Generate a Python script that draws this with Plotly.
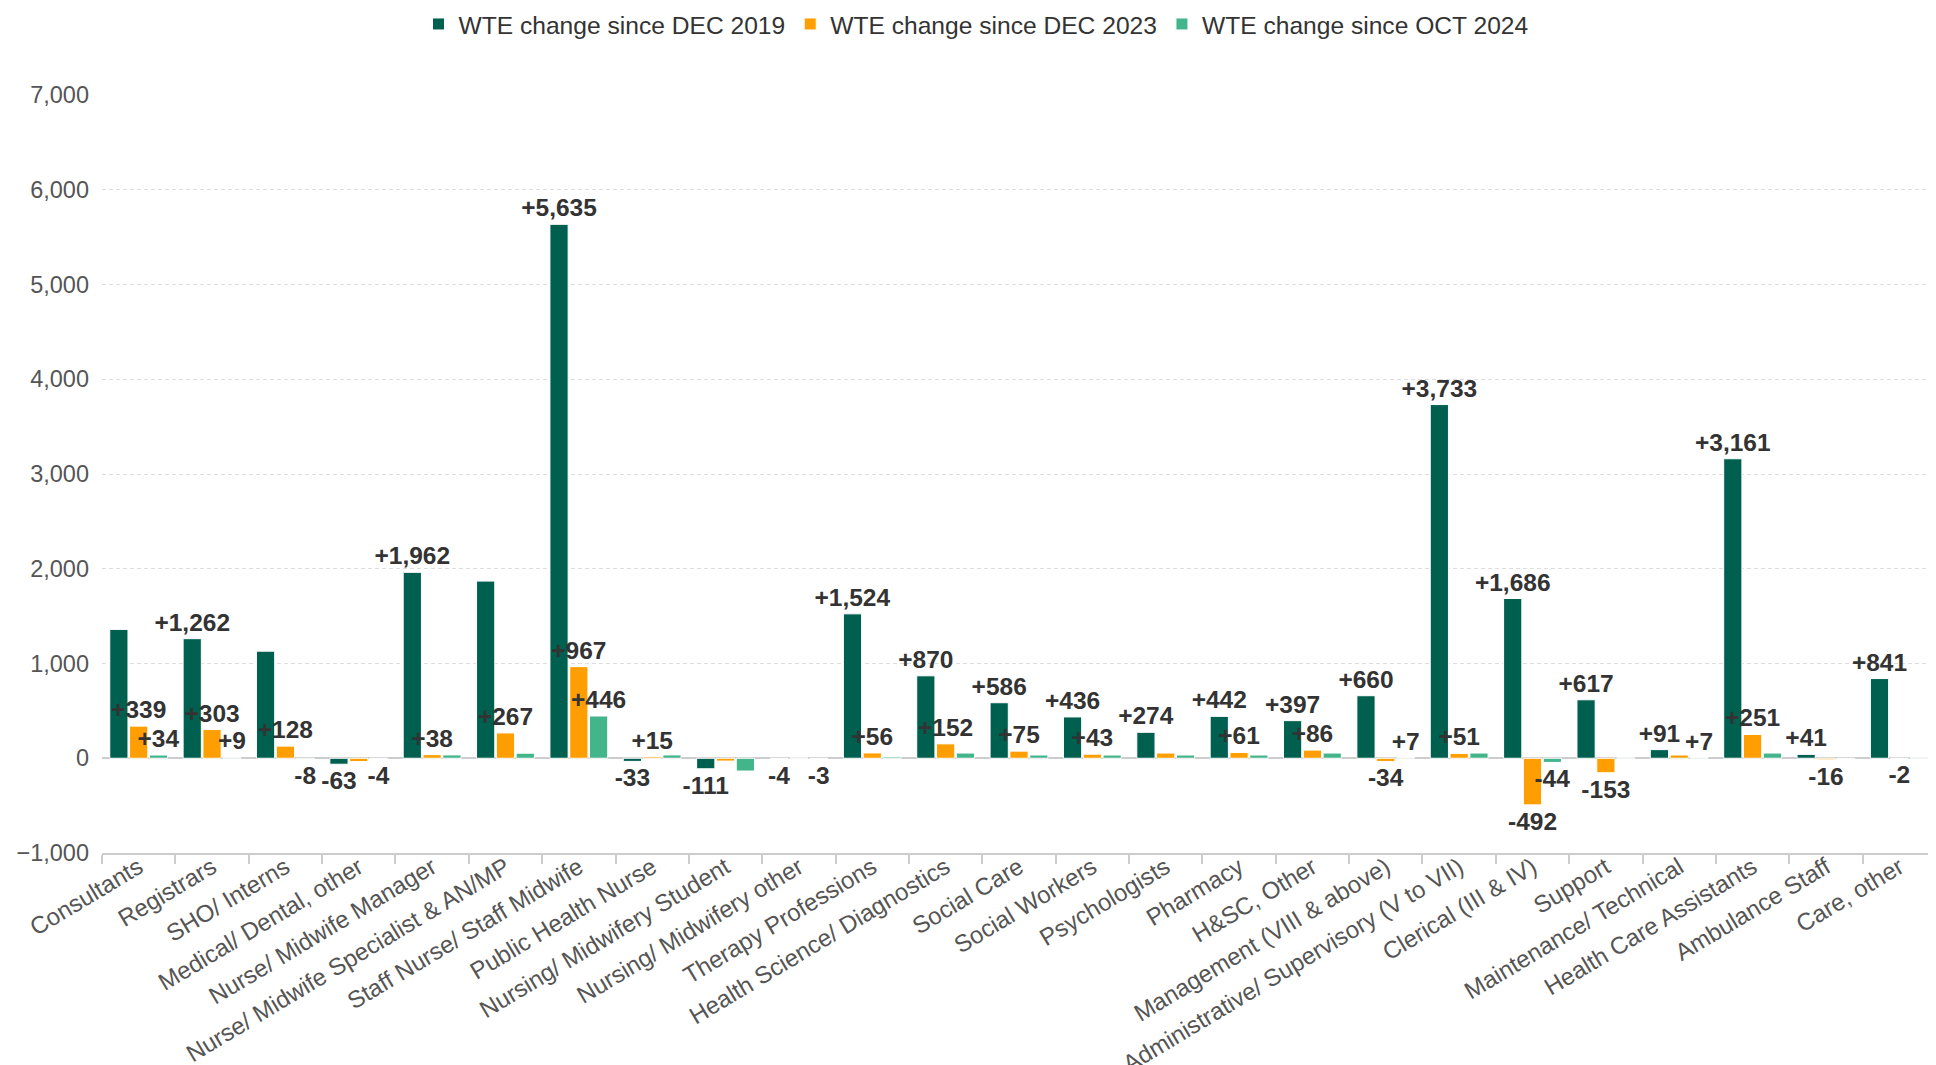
import plotly.graph_objects as go

categories = [
    "Consultants", "Registrars", "SHO/ Interns", "Medical/ Dental, other",
    "Nurse/ Midwife Manager", "Nurse/ Midwife Specialist & AN/MP",
    "Staff Nurse/ Staff Midwife", "Public Health Nurse",
    "Nursing/ Midwifery Student", "Nursing/ Midwifery other",
    "Therapy Professions", "Health Science/ Diagnostics", "Social Care",
    "Social Workers", "Psychologists", "Pharmacy", "H&SC, Other",
    "Management (VIII & above)", "Administrative/ Supervisory (V to VII)",
    "Clerical (III & IV)", "Support", "Maintenance/ Technical",
    "Health Care Assistants", "Ambulance Staff", "Care, other",
]

series_names = ["WTE change since DEC 2019", "WTE change since DEC 2023", "WTE change since OCT 2024"]

change_dec2019 = [1360, 1262, 1130, -63, 1962, 1870, 5635, -33, -111, -4,
                  1524, 870, 586, 436, 274, 442, 397, 660, 3733, 1686,
                  617, 91, 3161, 41, 841]
change_dec2023 = [339, 303, 128, -35, 38, 267, 967, 15, -30, 3,
                  56, 152, 75, 43, 55, 61, 86, -34, 51, -492,
                  -153, 34, 251, -16, -2]
change_oct2024 = [34, 9, -8, -4, 35, 53, 446, 35, -135, -3,
                  14, 55, 34, 34, 34, 34, 55, 7, 55, -44,
                  5, 7, 55, -5, 5]

# which data labels are visible (the others are hidden by label-overlap in the original)
labels_dec2019 = [False, True, False, True, True, False, True, True, True, True,
                  True, True, True, True, True, True, True, True, True, True,
                  True, True, True, True, True]
labels_dec2023 = [True, True, True, False, True, True, True, True, False, False,
                  True, True, True, True, False, True, True, True, True, True,
                  True, False, True, True, True]
labels_oct2024 = [True, True, True, True, False, False, True, False, False, True,
                  False, False, False, False, False, False, False, True, False, True,
                  False, True, False, False, False]

colors = ["#00604F", "#FF9E00", "#43B58B"]

fig = go.Figure()
for name, vals, shows, col in zip(series_names,
                                  [change_dec2019, change_dec2023, change_oct2024],
                                  [labels_dec2019, labels_dec2023, labels_oct2024],
                                  colors):
    texts = [f"{v:+,}" if s else "" for v, s in zip(vals, shows)]
    fig.add_trace(go.Bar(
        x=categories, y=vals, name=name,
        marker=dict(color=col, line=dict(color="white", width=1)),
        text=texts, textposition="outside", constraintext="none", cliponaxis=False,
        textfont=dict(family="Liberation Sans, Arial, sans-serif", size=24.5, color="#333333", weight="bold"),
        hoverinfo="x+y",
    ))

fig.update_layout(
    width=1936, height=1065,
    margin=dict(l=94, r=8, t=87, b=220, autoexpand=False),
    paper_bgcolor="white", plot_bgcolor="white",
    barmode="group", bargap=0.19, bargroupgap=0.08,
    font=dict(family="Liberation Sans, Arial, sans-serif", size=23, color="#555555"),
    legend=dict(orientation="h", xref="container", yref="container",
                x=0.5, xanchor="center", y=0.985, yanchor="middle",
                font=dict(size=24.6, color="#333333"), itemwidth=30,
                traceorder="normal"),
    showlegend=True,
)
fig.update_xaxes(
    type="category", tickangle=-31, showgrid=False, automargin=False,
    showline=True, linecolor="#cccccc", linewidth=2,
    ticks="outside", tickson="boundaries", ticklen=9, tickcolor="#cccccc", tickwidth=2,
    tickfont=dict(size=24, color="#555555"), ticklabelstandoff=-11,
    anchor="y",
)
fig.update_yaxes(
    range=[-1000, 7000], dtick=1000, tickformat=",", automargin=False,
    showgrid=True, gridcolor="#dddddd", griddash="4px,3px", gridwidth=1,
    zeroline=True, zerolinecolor="#cccccc", zerolinewidth=2,
    showline=False, ticks="", ticklabelstandoff=12,
    tickfont=dict(size=23.5, color="#555555"),
)

fig.write_html("out.html")
